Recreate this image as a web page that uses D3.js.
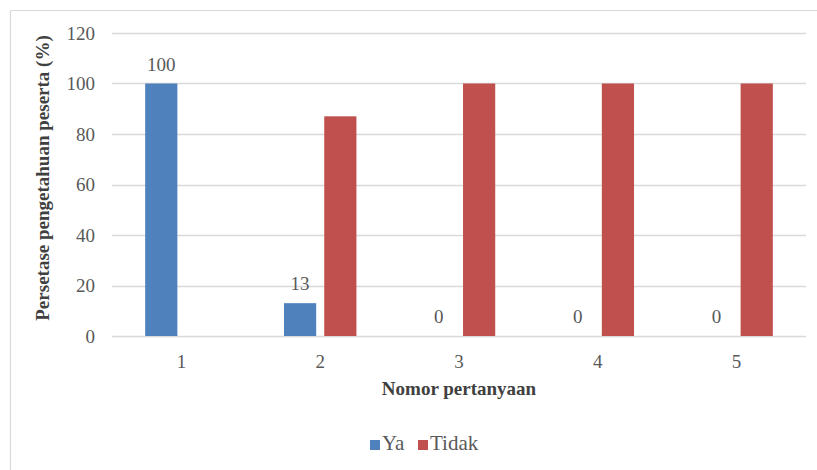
<!DOCTYPE html>
<html>
<head>
<meta charset="utf-8">
<script src="https://cdn.jsdelivr.net/npm/d3@7/dist/d3.min.js"></script>
<style>
  html, body { margin: 0; padding: 0; background: #fff; }
  svg { display: block; }
  svg text { font-family: "Liberation Serif", "Times New Roman", Tinos, "DejaVu Serif", serif; }
</style>
</head>
<body>
<svg id="chart" width="817" height="470"></svg>
<script>
// Question numbers and the share of participants answering each way
const categories = ["1", "2", "3", "4", "5"];
const seriesNames = ["Ya", "Tidak"];
const yaValues = [100, 13, 0, 0, 0];
const tidakValues = [0, 87, 100, 100, 100];
const yTicks = [0, 20, 40, 60, 80, 100, 120];
const colors = ["#4F81BD", "#C0504D"];

const svg = d3.select("#chart");
const W = 817, H = 470;
const plotLeft = 112, plotRight = 806, plotTop = 33, plotBottom = 336;
const tickSize = 19;

// outer frame (top and left edges visible)
svg.append("line").attr("x1", 10.5).attr("x2", W).attr("y1", 10.5).attr("y2", 10.5)
  .attr("stroke", "#d9d9d9").attr("stroke-width", 1.2);
svg.append("line").attr("x1", 10.5).attr("x2", 10.5).attr("y1", 10.5).attr("y2", H)
  .attr("stroke", "#d9d9d9").attr("stroke-width", 1.2);

const x = d3.scaleBand().domain(categories).range([plotLeft, plotRight]).padding(0);
const y = d3.scaleLinear().domain([0, 120]).range([plotBottom, plotTop]);

const barW = x.bandwidth() * 0.232;
const gap = x.bandwidth() * 0.058;
const series = [yaValues, tidakValues];

// gridlines
svg.append("g").selectAll("line").data(yTicks).join("line")
  .attr("x1", plotLeft).attr("x2", plotRight)
  .attr("y1", d => Math.round(y(d)) + 0.5).attr("y2", d => Math.round(y(d)) + 0.5)
  .attr("stroke", "#d9d9d9").attr("stroke-width", 1.5);

// y axis tick labels
const yAxis = d3.axisLeft(y).tickValues(yTicks).tickSize(0).tickPadding(17);
const gy = svg.append("g").attr("transform", `translate(${plotLeft},0)`).call(yAxis);
gy.select(".domain").remove();
gy.attr("font-family", null).attr("font-size", null);
gy.selectAll("text").attr("font-size", tickSize).attr("fill", "#595959");

// x axis tick labels
const xAxis = d3.axisBottom(x).tickSize(0);
const gx = svg.append("g").attr("transform", `translate(0,${plotBottom})`).call(xAxis);
gx.select(".domain").remove();
gx.attr("font-family", null).attr("font-size", null);
gx.selectAll("text").attr("y", 32).attr("dy", null)
  .attr("font-size", tickSize).attr("fill", "#595959");

// bars
series.forEach((vals, si) => {
  const offset = si === 0 ? -gap / 2 - barW : gap / 2;
  svg.append("g").selectAll("rect").data(categories).join("rect")
    .attr("x", (c) => x(c) + x.bandwidth() / 2 + offset)
    .attr("width", barW)
    .attr("y", (c, i) => y(vals[i]))
    .attr("height", (c, i) => y(0) - y(vals[i]))
    .attr("fill", colors[si]);
});

// value labels on the "Ya" series
svg.append("g").selectAll("text").data(categories).join("text")
  .attr("x", c => x(c) + x.bandwidth() / 2 - gap / 2 - barW / 2)
  .attr("y", (c, i) => y(yaValues[i]) - 13)
  .attr("text-anchor", "middle")
  .attr("font-size", tickSize).attr("fill", "#595959")
  .text((c, i) => yaValues[i]);

// axis titles
svg.append("text")
  .attr("transform", "translate(49,178) rotate(-90)")
  .attr("text-anchor", "middle")
  .attr("font-size", 19).attr("font-weight", "bold").attr("fill", "#404040")
  .text("Persetase pengetahuan peserta (%)");

svg.append("text")
  .attr("x", (plotLeft + plotRight) / 2).attr("y", 395)
  .attr("text-anchor", "middle")
  .attr("font-size", 19).attr("font-weight", "bold").attr("fill", "#404040")
  .text("Nomor pertanyaan");

// legend
const legend = svg.append("g").attr("transform", "translate(370,450)");
const legendX = [0, 48];
seriesNames.forEach((name, i) => {
  const g = legend.append("g").attr("transform", `translate(${legendX[i]},0)`);
  g.append("rect").attr("x", 0).attr("y", -10).attr("width", 10).attr("height", 10).attr("fill", colors[i]);
  g.append("text").attr("x", 12).attr("y", 0)
    .attr("font-size", 21).attr("fill", "#595959")
    .text(name);
});
</script>
</body>
</html>
